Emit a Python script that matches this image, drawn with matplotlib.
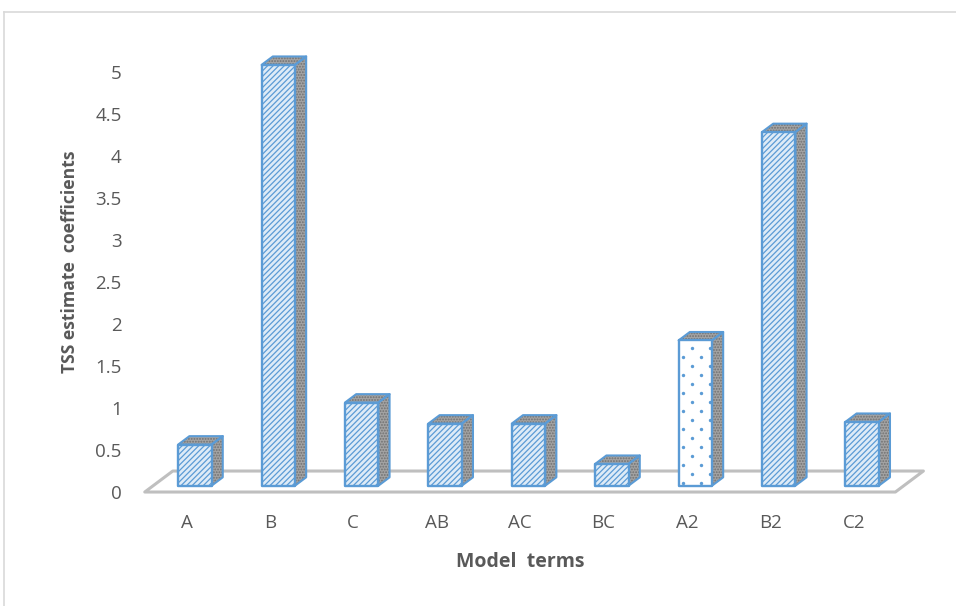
import numpy as np
import matplotlib
matplotlib.use("Agg")
import matplotlib.pyplot as plt
from matplotlib.patches import Polygon
from matplotlib.lines import Line2D

# Model terms and their TSS estimate coefficients
terms = ["A", "B", "C", "AB", "AC", "BC", "A2", "B2", "C2"]
coefficients = [0.49, 5.01, 0.99, 0.74, 0.74, 0.26, 1.73, 4.21, 0.76]
y_ticks = [0, 0.5, 1, 1.5, 2, 2.5, 3, 3.5, 4, 4.5, 5]

plt.rcParams["font.family"] = ["Open Sans", "DejaVu Sans"]
plt.rcParams["hatch.linewidth"] = 0.9

BLUE = "#5B9BD5"
FACE = "#DEEBF7"
SIDE = "#A3A3A3"
SIDE_DOT = "#707070"
TEXT = "#595959"
FLOOR = "#BFBFBF"

# fake 3d: depth vector of the floor (data units) and bar placement within it
DEPTH_X, DEPTH_Y = 0.336, 0.25
bar_w = 0.4
fx, fy = 0.3 * DEPTH_X, 0.3 * DEPTH_Y   # bar front plane offset
dx, dy = 0.4 * DEPTH_X, 0.4 * DEPTH_Y   # bar depth

W, H = 956, 606
fig = plt.figure(figsize=(W / 100, H / 100), dpi=100)
ax = fig.add_axes([130 / W, (H - 500) / H, 810 / W, 478.4 / H])
ax.set_xlim(-0.677, 9.035)
ax.set_ylim(-0.095, 5.6)
for s in ax.spines.values():
    s.set_visible(False)

x = np.arange(len(terms))

# floor
floor = Polygon([(-0.5, 0), (8.5, 0), (8.5 + DEPTH_X, DEPTH_Y), (-0.5 + DEPTH_X, DEPTH_Y)],
                closed=True, fill=False, edgecolor=FLOOR, linewidth=2.2,
                joinstyle="round", zorder=1)
ax.add_patch(floor)

# A2 gets a white front with a staggered dot texture instead of the stripes
dotted = [t == "A2" for t in terms]


def dot_texture(x0, x1, y0, y1, step_x=0.216, step_y=0.107):
    xs, ys = [], []
    row = 0
    yy = y0 + 0.03
    while yy < y1:
        shift = 0.5 * step_x if row % 2 else 0.0
        xx = x0 + 0.055 + shift
        while xx < x1:
            xs.append(xx)
            ys.append(yy)
            xx += step_x
        yy += step_y
        row += 1
    return xs, ys


for xi, v, dot in zip(x, coefficients, dotted):
    x0 = xi + fx - bar_w / 2
    x1 = xi + fx + bar_w / 2
    y0 = fy
    y1 = fy + v
    side = [(x1, y0), (x1 + dx, y0 + dy), (x1 + dx, y1 + dy), (x1, y1)]
    top = [(x0, y1), (x1, y1), (x1 + dx, y1 + dy), (x0 + dx, y1 + dy)]
    for pts in (side, top):
        ax.add_patch(Polygon(pts, closed=True, facecolor=SIDE, edgecolor=SIDE_DOT,
                             hatch="......", linewidth=0, zorder=2))
        ax.add_patch(Polygon(pts, closed=True, fill=False, edgecolor=BLUE,
                             linewidth=1.5, joinstyle="round", zorder=3))
    if dot:
        ax.bar(xi + fx, v, bottom=fy, width=bar_w, color="white", linewidth=0, zorder=4)
        xs, ys = dot_texture(x0, x1, y0, y1)
        ax.scatter(xs, ys, s=6, color=BLUE, linewidths=0, zorder=4.5)
    else:
        ax.bar(xi + fx, v, bottom=fy, width=bar_w, color=FACE, edgecolor=BLUE,
               hatch="//////", linewidth=0, zorder=4)
    ax.bar(xi + fx, v, bottom=fy, width=bar_w, fill=False, edgecolor=BLUE,
           linewidth=1.7, joinstyle="round", zorder=5)

ax.set_yticks(y_ticks)
ax.set_yticklabels([f"{t:g}" for t in y_ticks])
ax.set_xticks(x)
ax.set_xticklabels(terms)
ax.tick_params(length=0, labelsize=13.5, labelcolor=TEXT)
ax.tick_params(axis="y", pad=6)
ax.tick_params(axis="x", pad=10)

fig.text(520 / W, 1 - 562 / H, "Model  terms", ha="center", va="center",
         fontsize=14, fontweight="bold", color=TEXT)
fig.text(70 / W, 1 - 262 / H, "TSS estimate  coefficients", ha="center", va="center",
         rotation=90, fontsize=12.6, fontweight="bold", color=TEXT)

# chart area border
fig.add_artist(Line2D([4 / W, 1], [1 - 12 / H, 1 - 12 / H], color="#D9D9D9", lw=1.2))
fig.add_artist(Line2D([4 / W, 4 / W], [0, 1 - 12 / H], color="#D9D9D9", lw=1.2))

fig.savefig("out.png", dpi=100)
